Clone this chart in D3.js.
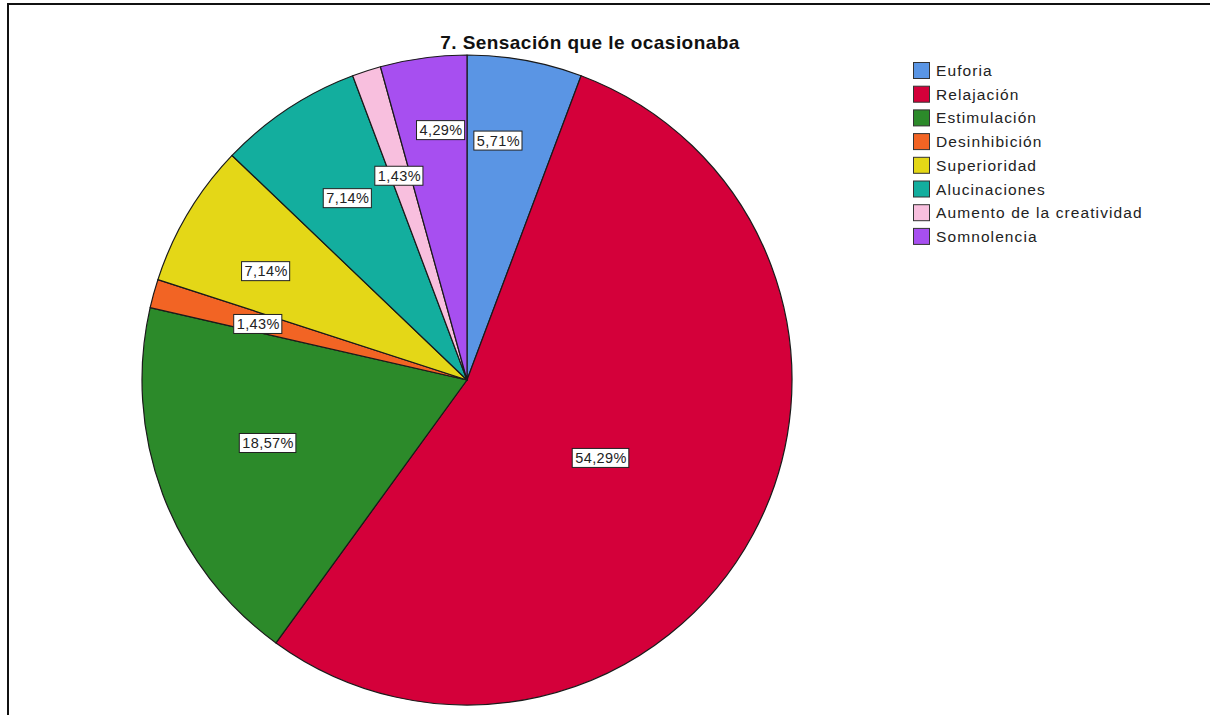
<!DOCTYPE html>
<html>
<head>
<meta charset="utf-8">
<script src="https://cdn.jsdelivr.net/npm/d3@7"></script>
<style>
  html, body { margin: 0; padding: 0; background: #fff; }
  svg { display: block; }
</style>
</head>
<body>
<script>
// Sensación que le ocasionaba — percentage of respondents per category
const categories = ["Euforia", "Relajación", "Estimulación", "Desinhibición",
                    "Superioridad", "Alucinaciones", "Aumento de la creatividad", "Somnolencia"];
const percentages = [5.71, 54.29, 18.57, 1.43, 7.14, 7.14, 1.43, 4.29];
const colors = ["#5a95e4", "#d4003a", "#2c8a2a", "#f26424", "#e4d717", "#13ae9e", "#f8bfde", "#a74ff0"];
const title = "7. Sensación que le ocasionaba";

// label placement: distance from the centre (share of radius) and a small angular nudge (degrees)
const labelRadiusFrac = [0.743, 0.477, 0.642, 0.665, 0.703, 0.669, 0.662, 0.773];
const labelAngleShift = [-2.8, 1.9, 3.0, -0.4, -2.4, 0.2, -0.3, 1.8];

const W = 1210, H = 715;
const cx = 467, cy = 380, R = 325;

const svg = d3.select("body").append("svg")
  .attr("width", W).attr("height", H);

svg.append("rect").attr("width", W).attr("height", H).attr("fill", "#fff");

// frame: top and left edges
svg.append("path")
  .attr("d", `M8,${H} L8,4 L${W},4`)
  .attr("fill", "none").attr("stroke", "#111").attr("stroke-width", 2);

svg.append("text")
  .attr("x", 590).attr("y", 49)
  .attr("text-anchor", "middle")
  .attr("font-family", "Arial, 'Liberation Sans', sans-serif")
  .attr("font-weight", "bold")
  .attr("font-size", 19)
  .attr("letter-spacing", 0.45)
  .attr("fill", "#111")
  .text(title);

const data = categories.map((c, i) => ({
  name: c, value: percentages[i], color: colors[i],
  lr: labelRadiusFrac[i], la: labelAngleShift[i] * Math.PI / 180
}));

const pie = d3.pie().sort(null).value(d => d.value);
const arcs = pie(data);
const arc = d3.arc().innerRadius(0).outerRadius(R);

const g = svg.append("g").attr("transform", `translate(${cx},${cy})`);

g.selectAll("path.slice")
  .data(arcs)
  .join("path")
  .attr("class", "slice")
  .attr("d", arc)
  .attr("fill", d => d.data.color)
  .attr("stroke", "#1a1a1a")
  .attr("stroke-width", 1.2)
  .attr("stroke-linejoin", "round");

const fmt = v => d3.format(".2f")(v).replace(".", ",") + "%";

const labels = g.selectAll("g.lbl")
  .data(arcs)
  .join("g")
  .attr("class", "lbl")
  .attr("transform", d => {
    const a = (d.startAngle + d.endAngle) / 2 + d.data.la;
    const r = d.data.lr * R;
    return `translate(${r * Math.sin(a)},${-r * Math.cos(a)})`;
  });

labels.each(function(d) {
  const sel = d3.select(this);
  const t = sel.append("text")
    .attr("text-anchor", "middle")
    .attr("dy", "0.36em")
    .attr("font-family", "Arial, 'Liberation Sans', sans-serif")
    .attr("font-size", 14.5)
    .attr("letter-spacing", 0.4)
    .attr("fill", "#222")
    .text(fmt(d.data.value));
  const bb = t.node().getBBox();
  sel.insert("rect", "text")
    .attr("x", bb.x - 3).attr("y", -9.5)
    .attr("width", bb.width + 5).attr("height", 19)
    .attr("fill", "#fff")
    .attr("stroke", "#222")
    .attr("stroke-width", 1);
});

// legend
const legend = svg.append("g").attr("transform", "translate(913,62)");
const rows = legend.selectAll("g.row")
  .data(data)
  .join("g")
  .attr("class", "row")
  .attr("transform", (d, i) => `translate(0,${i * 23.7})`);

rows.append("rect")
  .attr("x", 0.5).attr("y", 0.5)
  .attr("width", 16).attr("height", 16)
  .attr("fill", d => d.color)
  .attr("stroke", "#333")
  .attr("stroke-width", 1);

rows.append("text")
  .attr("x", 23).attr("y", 8.5)
  .attr("dy", "0.36em")
  .attr("font-family", "Arial, 'Liberation Sans', sans-serif")
  .attr("font-size", 15.5)
  .attr("letter-spacing", 1.1)
  .attr("fill", "#222")
  .text(d => d.name);
</script>
</body>
</html>
